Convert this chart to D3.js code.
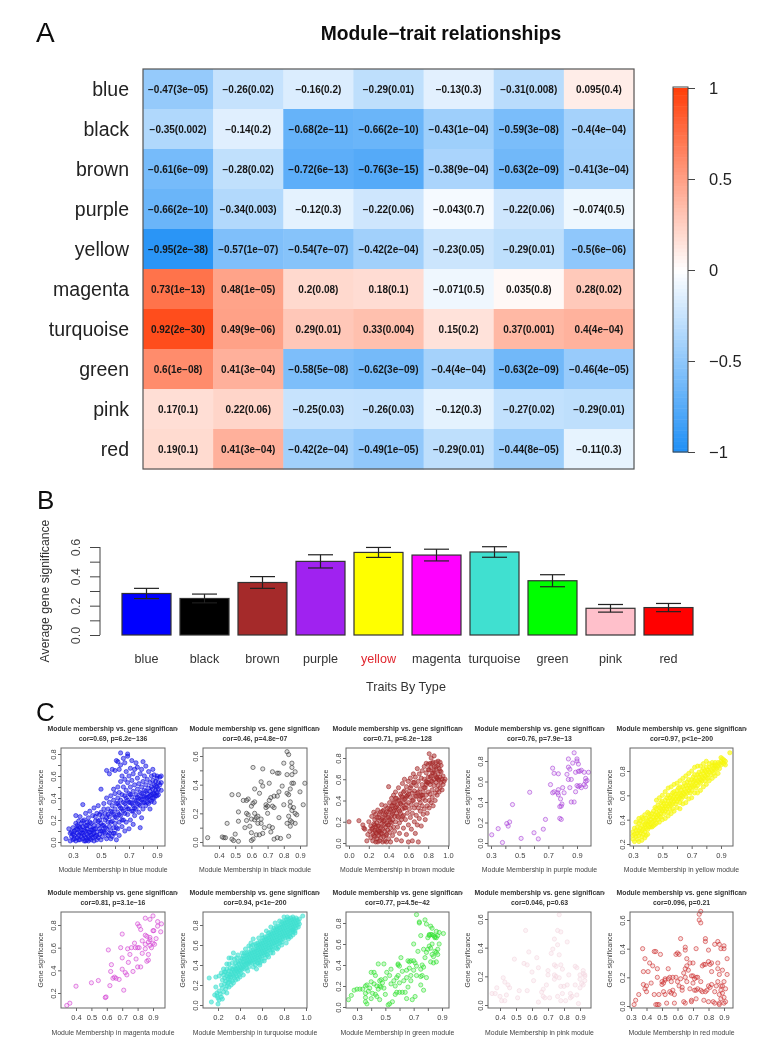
<!DOCTYPE html>
<html><head><meta charset="utf-8">
<script src="https://cdn.jsdelivr.net/npm/d3@7/dist/d3.min.js"></script>
<style>html,body{margin:0;padding:0;background:#fff}svg{display:block}text{font-family:"Liberation Sans",Arial,sans-serif}</style>
</head><body><svg id="c" width="763" height="1056"></svg>
<script>
// ---------- Panel A data ----------
const modules=["blue","black","brown","purple","yellow","magenta","turquoise","green","pink","red"];
const corValues=[
[-0.47,-0.26,-0.16,-0.29,-0.13,-0.31,0.095],
[-0.35,-0.14,-0.68,-0.66,-0.43,-0.59,-0.4],
[-0.61,-0.28,-0.72,-0.76,-0.38,-0.63,-0.41],
[-0.66,-0.34,-0.12,-0.22,-0.043,-0.22,-0.074],
[-0.95,-0.57,-0.54,-0.42,-0.23,-0.29,-0.5],
[0.73,0.48,0.2,0.18,-0.071,0.035,0.28],
[0.92,0.49,0.29,0.33,0.15,0.37,0.4],
[0.6,0.41,-0.58,-0.62,-0.4,-0.63,-0.46],
[0.17,0.22,-0.25,-0.26,-0.12,-0.27,-0.29],
[0.19,0.41,-0.42,-0.49,-0.29,-0.44,-0.11]];
const pValues=[
["3e−05","0.02","0.2","0.01","0.3","0.008","0.4"],
["0.002","0.2","2e−11","2e−10","1e−04","3e−08","4e−04"],
["6e−09","0.02","6e−13","3e−15","9e−04","2e−09","3e−04"],
["2e−10","0.003","0.3","0.06","0.7","0.06","0.5"],
["2e−38","1e−07","7e−07","2e−04","0.05","0.01","6e−06"],
["1e−13","1e−05","0.08","0.1","0.5","0.8","0.02"],
["2e−30","9e−06","0.01","0.004","0.2","0.001","4e−04"],
["1e−08","3e−04","5e−08","3e−09","4e−04","2e−09","4e−05"],
["0.1","0.06","0.03","0.03","0.3","0.02","0.01"],
["0.1","3e−04","2e−04","1e−05","0.01","8e−05","0.3"]];
const legendTicks=[-1,-0.5,0,0.5,1];
// ---------- Panel B data ----------
const traitLabels=modules;
const barFills=["#0000ff","#000000","#a52a2a","#a020f0","#ffff00","#ff00ff","#40e0d0","#00ff00","#ffc0cb","#ff0000"];
const avgGS=[0.283,0.249,0.358,0.502,0.563,0.545,0.566,0.37,0.182,0.187];
const errGS=[0.035,0.03,0.04,0.045,0.034,0.04,0.036,0.041,0.026,0.028];
// ---------- Panel C data (membership, significance in hundredths) ----------
const bluePts=[[25,3],[27,12],[28,8],[29,5],[30,2],[30,13],[31,10],[31,6],[32,24],[32,17],[32,1],[33,8],[33,4],[33,12],[34,19],[34,6],[34,14],[35,2],[35,9],[35,23],[36,5],[36,11],[36,17],[37,3],[37,8],[37,14],[37,34],[38,6],[38,20],[38,1],[39,10],[39,4],[39,15],[39,26],[40,2],[40,7],[40,12],[40,18],[41,5],[41,22],[41,1],[42,9],[42,3],[42,14],[42,28],[43,6],[43,17],[43,2],[44,11],[44,24],[44,4],[45,8],[45,15],[45,1],[45,31],[46,19],[46,5],[46,12],[47,2],[47,26],[47,9],[48,15],[48,4],[48,33],[49,20],[49,7],[49,12],[50,2],[50,27],[50,17],[50,48],[51,10],[51,23],[51,5],[52,15],[52,35],[52,30],[53,20],[53,8],[53,26],[54,3],[54,12],[54,40],[54,65],[55,18],[55,30],[55,6],[56,23],[56,36],[56,14],[56,62],[57,10],[57,28],[57,42],[57,3],[58,19],[58,33],[58,66],[58,5],[59,25],[59,13],[59,38],[59,48],[60,8],[60,30],[60,17],[60,44],[60,65],[61,22],[61,35],[61,2],[61,74],[62,12],[62,40],[62,27],[62,50],[62,73],[63,18],[63,33],[63,6],[63,45],[63,66],[64,24],[64,38],[64,55],[64,81],[64,70],[65,14],[65,30],[65,43],[65,60],[66,20],[66,36],[66,50],[66,76],[67,26],[67,10],[67,42],[67,57],[67,72],[68,32],[68,18],[68,47],[68,64],[69,38],[69,25],[69,54],[69,78],[69,80],[70,12],[70,30],[70,44],[70,60],[71,36],[71,20],[71,50],[71,67],[72,28],[72,41],[72,56],[72,74],[73,33],[73,46],[73,16],[73,62],[74,24],[74,38],[74,52],[74,66],[75,30],[75,43],[75,72],[76,35],[76,48],[76,58],[76,68],[77,27],[77,40],[77,53],[78,33],[78,45],[78,62],[78,13],[79,38],[79,50],[79,66],[79,22],[80,42],[80,30],[80,55],[80,73],[81,36],[81,47],[81,60],[82,40],[82,33],[82,52],[82,69],[83,44],[83,36],[83,57],[84,41],[84,49],[84,64],[85,38],[85,46],[85,54],[85,30],[86,43],[86,60],[86,50],[87,40],[87,48],[87,56],[87,66],[88,44],[88,52],[88,36],[88,61],[89,47],[89,55],[89,42],[90,50],[90,58],[90,45],[90,60],[91,54],[91,48],[92,59],[92,52],[93,54],[93,47],[93,60]];
const blueDense=[[28,1],[29,9],[30,7],[31,3],[32,11],[33,15],[34,2],[35,13],[36,8],[37,19],[38,11],[39,1],[40,15],[41,9],[42,18],[43,11],[44,7],[45,12],[46,23],[47,6],[48,19],[49,25],[50,10],[51,15],[52,9],[53,13],[54,22],[55,25],[56,8],[57,18],[58,27],[59,8],[60,23],[61,13],[62,35],[63,25],[64,31],[65,20],[66,28],[67,35],[68,40],[69,30],[70,36],[71,43],[72,35],[73,28],[74,31],[75,37],[76,41],[77,34],[78,39],[79,44],[80,36],[81,41],[82,46],[83,40],[84,35],[85,42],[86,37],[87,44],[88,40],[89,51],[90,42],[91,43]];
const blackPts=[[33,3],[42,3.5],[43,3],[44,3],[48,2],[49,1],[50,5.5],[52,.5],[48,33],[52,33],[45,13],[52,21],[52,14.5],[55,29],[57,29],[58,30],[61,27],[60,25],[62,28],[57,20],[58,19],[57,15],[56,10],[59,11],[60,1],[61,2],[60,6.5],[63,5],[65,5],[67,6],[68,10],[71,11],[73,10],[72,7],[74,2],[76,3],[78,2.5],[83,4],[62,37],[61,52],[67,51],[66,42],[67,39],[71,41],[73,49],[76,48],[77,48],[80,55],[82,63],[83,61],[85,55],[85,52],[87,49],[85,47],[82,47],[85,41],[86,41],[79,39],[77,35],[76,32],[74,32],[72,31],[71,29],[65,34],[62,20],[63,17],[64,18],[66,16],[69,24],[69,26],[70,20],[70,25],[74,24],[73,25],[77,17],[80,26],[82,34],[83,33],[84,28],[84,25],[86,24],[87,20],[88,19],[85,22],[83,18],[82,13],[84,15],[85,14],[87,13],[84,11],[93,41],[90,35],[92,26],[84,37],[64,13],[62,15.5],[66,13],[60,16]];
const brownPts=[[0,20],[10,21],[14,17],[15,14],[16,13],[18,2],[19,8],[20,20],[21,11],[22,5],[22,16],[23,25],[23,13],[24,2],[24,9],[25,18],[25,29],[26,6],[26,12],[26,22],[27,1],[27,15],[27,27],[28,9],[28,4],[28,19],[29,12],[29,31],[29,1],[30,7],[30,16],[30,24],[31,2],[31,11],[31,21],[32,14],[32,5],[32,29],[33,18],[33,36],[33,9],[34,1],[34,13],[34,24],[35,6],[35,17],[35,31],[36,11],[36,21],[36,2],[37,27],[37,15],[37,35],[38,8],[38,19],[38,1],[39,24],[39,12],[39,33],[40,4],[40,17],[40,53],[40,29],[41,22],[41,38],[41,10],[42,14],[42,31],[42,1],[43,26],[43,19],[43,42],[44,7],[44,35],[44,22],[45,30],[45,15],[45,45],[46,38],[46,25],[46,11],[47,33],[47,20],[47,48],[48,3],[48,28],[48,42],[49,36],[49,15],[50,24],[50,32],[50,52],[51,40],[51,9],[51,19],[52,28],[52,46],[53,36],[53,2],[53,22],[54,32],[54,56],[54,43],[55,14],[55,38],[55,26],[56,49],[56,33],[56,60],[57,22],[57,42],[58,8],[58,36],[58,53],[59,28],[59,45],[60,1],[60,17],[60,58],[60,38],[61,32],[61,49],[62,24],[62,43],[62,61],[63,13],[63,36],[63,54],[64,47],[64,2],[64,28],[65,40],[65,57],[65,65],[66,20],[66,33],[66,49],[67,44],[67,9],[67,62],[68,36],[68,26],[68,54],[69,17],[69,47],[69,70],[70,33],[70,58],[70,1],[71,41],[71,65],[71,23],[72,51],[72,30],[72,38],[73,61],[73,45],[73,16],[74,35],[74,55],[74,68],[75,27],[75,48],[75,42],[76,60],[76,72],[76,32],[77,52],[77,40],[77,22],[78,66],[78,45],[78,75],[79,35],[79,57],[79,28],[80,48],[80,62],[80,74],[81,40],[81,69],[81,84],[81,33],[82,55],[82,75],[82,46],[83,63],[83,38],[83,71],[83,80],[84,50],[84,58],[84,43],[85,66],[85,76],[85,35],[86,54],[86,60],[86,72],[86,82],[87,47],[87,64],[87,40],[88,57],[88,76],[88,69],[89,50],[89,61],[89,45],[90,73],[90,65],[90,54],[90,77],[91,59],[91,48],[91,70],[92,62],[92,76],[92,52],[93,67],[93,57],[93,73],[94,60],[94,50],[95,55],[95,63],[96,58],[97,60]];
const brownDense=[[24,14],[25,7],[26,17],[27,10],[28,24],[29,16],[30,11],[31,27],[32,9],[33,22],[34,30],[35,21],[36,26],[37,7],[38,29],[39,17],[40,24],[41,32],[42,20],[43,35],[44,27],[45,38],[46,31],[47,42],[48,34],[49,25],[50,40],[51,30],[52,37],[53,44],[54,25],[55,48],[56,41],[57,33],[58,44],[60,46],[62,52],[64,40],[66,57],[68,44],[70,48],[72,44],[74,45],[76,52],[78,55],[80,57],[82,62],[84,66],[86,68],[88,62],[90,60],[92,68],[78,58],[84,75],[88,72],[80,69],[83,58]];
const purplePts=[[30.5,8],[35,14],[38,.5],[41,19],[43,20.5],[42,16.5],[45,37.5],[51,4.5],[57,49.5],[60,10],[63,4],[66.5,13.5],[68,23],[71.5,57],[73,73],[74,68],[77,67.5],[73,49],[74,50],[76.5,49],[77,52],[77,47],[78.5,43],[79,36],[79.5,38],[78,35.5],[78,24],[79,23],[80,54],[81,49],[84,74],[85,72],[86,62],[87,78],[88,88],[90,82],[90,80],[91,77],[84,82],[83,67],[84,62],[85,54],[86,40],[88,40],[89,50],[90,56],[91,55],[92,56],[92,70],[91,70],[93,71],[95,69],[96,63],[96,60],[97,61],[95,57],[96,55],[98,69],[89,69],[93,54]];
const yellowPts=[[30,27],[30,30],[30,24],[31,33],[31,28],[31,22],[32,31],[32,26],[32,38],[33,29],[33,34],[33,24],[34,27],[34,37],[34,31],[35,33],[35,29],[35,39],[36,35],[36,26],[36,31],[37,32],[37,38],[37,28],[37,41],[38,34],[38,30],[38,36],[39,33],[39,41],[39,37],[39,27],[40,36],[40,39],[40,32],[41,38],[41,42],[41,34],[41,45],[42,40],[42,36],[42,43],[43,38],[43,45],[43,34],[44,42],[44,39],[44,47],[45,44],[45,40],[45,50],[45,36],[46,46],[46,42],[46,49],[47,44],[47,52],[47,40],[48,47],[48,50],[48,43],[49,49],[49,45],[49,54],[49,42],[50,51],[50,47],[50,55],[51,49],[51,53],[51,45],[52,51],[52,56],[52,47],[53,53],[53,49],[53,58],[54,55],[54,51],[54,60],[54,46],[55,53],[55,58],[55,49],[56,56],[56,60],[56,52],[57,57],[57,53],[57,62],[57,49],[58,59],[58,55],[58,63],[59,57],[59,61],[59,53],[60,59],[60,64],[60,55],[61,61],[61,57],[61,66],[62,62],[62,58],[62,67],[62,54],[63,64],[63,60],[63,57],[64,62],[64,67],[64,59],[65,65],[65,61],[65,70],[66,63],[66,68],[66,59],[67,66],[67,71],[67,62],[68,68],[68,64],[68,73],[69,70],[69,66],[69,62],[70,68],[70,73],[70,64],[71,71],[71,75],[71,67],[72,72],[72,68],[72,77],[73,74],[73,70],[73,66],[74,72],[74,77],[74,68],[75,75],[75,71],[75,79],[76,77],[76,73],[76,70],[77,75],[77,80],[77,72],[78,78],[78,74],[78,82],[79,76],[79,80],[79,72],[80,79],[80,75],[80,83],[81,81],[81,77],[81,74],[82,83],[82,79],[82,86],[83,81],[83,77],[84,84],[84,80],[84,87],[85,82],[85,78],[85,85],[86,84],[86,87],[86,81],[87,85],[87,82],[88,87],[88,84],[89,86],[89,82],[90,88],[90,85],[90,91],[91,87],[91,90],[92,89],[92,86],[93,88],[93,85],[96,95]];
const yellowEdge=[[46,56],[48,58],[50,60],[52,63],[54,66],[56,67],[58,69],[60,70],[62,72],[64,74],[66,76],[68,78],[70,80],[72,83],[74,84],[76,84],[78,86],[80,88],[46,37],[48,38],[50,40],[52,41],[54,43],[56,45],[58,47],[60,50],[62,49],[64,53],[66,54],[68,57],[70,58],[72,62],[74,62],[76,64],[78,67],[80,69],[82,72],[84,74],[86,76],[88,78],[40,46],[38,44],[36,42],[34,41],[42,34],[40,28],[38,25],[36,23],[34,22],[44,35]];
const magentaPts=[[34,9],[36,11],[40,26],[50,29],[54.5,31],[59,16],[59.5,16.5],[61,58],[62,26.5],[62.5,39],[63,45],[64,33],[65,34],[66,33],[68,32],[69,60],[70,51],[70,72],[70,41],[72,38],[71,22.5],[73,36],[73.5,59],[74,47],[75,54],[76,60],[77,39],[78,64],[78.5,60],[79,50],[80,60],[80,43],[80,81],[81,60],[81,79],[82,43],[82,76],[83,55],[83,66],[85,63],[85,59],[85,71],[86,48],[86,70],[87,49],[87,65],[87,54],[88,69],[88,67],[88,62],[88,85],[89,60],[90,88],[90,64],[90,75],[90.5,75],[91,63],[92,68],[93,83],[93,79],[95,74],[95.5,81],[85,86]];
const turquoisePts=[[12,27],[14,3],[17,10],[18,18],[18,28],[19,12],[19,9],[20,1],[20,7],[21,14],[21,29],[21,5],[22,11],[23,20],[23,8],[23,32],[24,17],[24,25],[24,6],[25,13],[25,30],[25,36],[26,21],[26,27],[27,16],[27,33],[27,24],[28,29],[28,19],[28,36],[29,26],[29,31],[29,22],[30,34],[30,28],[30,18],[30,41],[31,30],[31,25],[31,37],[32,33],[32,28],[32,47],[33,31],[33,36],[33,24],[34,35],[34,29],[34,52],[35,33],[35,38],[35,27],[36,36],[36,31],[36,42],[37,34],[37,39],[37,29],[37,47],[38,37],[38,33],[38,43],[39,35],[39,41],[39,30],[40,38],[40,34],[40,44],[41,37],[41,42],[41,32],[42,40],[42,46],[42,36],[43,43],[43,38],[43,49],[44,41],[44,46],[44,36],[45,44],[45,49],[45,40],[46,42],[46,47],[46,52],[47,45],[47,50],[47,41],[48,48],[48,43],[48,53],[48,38],[49,46],[49,51],[49,42],[50,49],[50,54],[50,44],[50,58],[51,47],[51,52],[51,42],[52,50],[52,55],[52,45],[52,60],[53,48],[53,53],[53,43],[54,51],[54,56],[54,46],[54,61],[55,49],[55,54],[55,59],[55,44],[56,52],[56,57],[56,47],[56,62],[57,50],[57,55],[57,60],[57,45],[58,53],[58,58],[58,48],[58,63],[59,51],[59,56],[59,61],[59,46],[60,54],[60,59],[60,64],[60,49],[61,57],[61,52],[61,62],[61,67],[62,55],[62,60],[62,65],[62,50],[63,58],[63,53],[63,63],[63,68],[64,56],[64,61],[64,66],[64,51],[65,59],[65,64],[65,54],[65,69],[66,62],[66,57],[66,67],[66,72],[67,60],[67,65],[67,55],[67,70],[68,63],[68,58],[68,68],[68,73],[69,61],[69,66],[69,71],[69,56],[70,64],[70,59],[70,69],[70,74],[71,62],[71,67],[71,72],[71,77],[72,65],[72,60],[72,70],[72,75],[73,68],[73,63],[73,73],[73,78],[74,66],[74,71],[74,61],[74,76],[75,69],[75,64],[75,74],[75,79],[76,67],[76,72],[76,77],[76,62],[77,70],[77,65],[77,75],[77,80],[78,68],[78,73],[78,78],[78,83],[79,71],[79,66],[79,76],[79,81],[80,74],[80,69],[80,79],[80,84],[81,72],[81,77],[81,67],[81,82],[82,75],[82,70],[82,80],[82,85],[83,73],[83,78],[83,83],[83,88],[84,76],[84,71],[84,81],[84,86],[85,74],[85,79],[85,69],[85,84],[86,77],[86,82],[86,72],[86,87],[87,75],[87,80],[87,85],[88,78],[88,73],[88,83],[88,88],[89,76],[89,81],[89,86],[90,79],[90,84],[90,74],[91,82],[91,77],[91,87],[92,80],[92,85],[93,78],[93,83],[94,81],[94,86],[97,89]];
const turquoiseEdge=[[50,62],[52,66],[55,36],[57,67],[58,40],[60,70],[62,44],[64,74],[66,48],[68,78],[70,52],[72,82],[74,56],[76,84],[78,60],[80,88],[82,62],[84,66],[86,68],[88,70],[90,72],[45,56],[42,52],[47,34],[40,28],[43,30],[38,50],[35,46],[33,42],[30,47],[54,40],[56,42],[60,44],[65,50],[70,55],[75,58],[28,12],[30,23],[32,20],[34,22],[36,25],[38,26],[26,33],[28,41],[41,47],[44,52],[48,59],[46,37],[52,38],[58,42],[63,47],[68,52],[73,57],[78,63],[83,68],[88,75]];
const greenPts=[[24,7],[26,11],[28,16],[30,17],[32,17],[34,17],[36,20],[36,13],[36,9],[36,5],[37,3],[37,21],[38,15],[39,18],[40,24],[40,33],[40,8],[41,13],[42,33],[42,22],[43,30],[43,12],[44,10],[44,20],[45,17],[45,41],[46,25],[46,20],[46,7],[47,19],[47,26],[48,23],[49,41],[49,18],[50,12],[50,27],[51,33],[52,2],[53,3],[53,30],[54,36],[54,22],[55,5],[56,25],[57,20],[57,12],[58,28],[58,14],[59,40],[59,41],[59,30],[60,39],[60,23],[60,14],[61,47],[62,34],[62,14],[63,25],[64,14],[65,35],[65,28],[65,8],[66,44],[66,19],[67,37],[67,43],[68,44],[68,30],[68,25],[69,7],[70,60],[70,35],[70,44],[71,10],[71,42],[72,30],[72,88],[72,39],[73,53],[74,80],[74,81],[75,36],[75,29],[75,68],[75,21],[76,30],[76,40],[77,38],[77,16],[77,55],[78,83],[78,47],[79,28],[79,79],[80,66],[80,55],[81,68],[81,58],[81,69],[82,69],[82,77],[82,43],[82,56],[83,69],[83,75],[83,50],[83,60],[84,68],[84,42],[85,53],[85,67],[85,66],[86,52],[86,72],[86,66],[86,43],[87,55],[87,68],[88,60],[88,71],[91,70],[87,50],[84,48],[79,52]];
const pinkPts=[[35,8],[37,8],[38,12],[40,6],[41,3],[42,19],[43,16],[43,3],[44,7],[45,14],[46,12],[49,32],[51,5],[52,10],[55,29],[56,52],[57,28],[57,10],[58,37],[60,23],[61,17],[63,33],[64,2],[64,26],[66,9],[67,11],[67,6],[68,5],[69,14],[70,24],[70,21],[71,5],[72,36],[73,39],[74,46],[74,28],[74,21],[74,18],[75,27],[75,20],[76,42],[76,52],[76,6],[77,35],[77,63],[77,19],[78,28],[78,3],[78,51],[78,13],[79,25],[79,8],[80,13],[81,3],[82,44],[82,14],[83,21],[84,8],[84,5],[85,6],[87,14],[87,27],[88,7],[88,26],[89,1],[90,18],[90,12],[90,21],[91,15],[92,24],[92,22],[92,14],[93,17],[93,20],[93,21]];
const redPts=[[32,1],[33,4],[35,8],[37.5,40],[38,24],[38,15],[39,33],[39,12],[40,14],[40,10],[41,24],[42,30],[43,16],[44,28],[45,8],[45,38],[46,38],[46,1],[47,1],[47,26],[47,20],[48,1],[48,8],[49,36],[50,15],[50,17],[51,16],[51,10],[52,19],[52,18],[52,8],[53,2],[54,19],[54,26],[55,20],[55,10],[56,9],[56,17],[57,20],[57,11],[58,2],[58,8],[59,20],[59,36],[60,17],[60,37],[61,14],[61,36],[62,47],[62,19],[63,11],[63,13],[64,3],[64,23],[65,20],[65,26],[65,41],[65,39],[65,2],[66,33],[66,17],[66,28],[67,25],[68,12],[68,30],[69,21],[69,4],[69,3],[70,16],[70,30],[70,21],[71,11],[71,19],[72,40],[72,20],[72,5],[72,11],[73,12],[73,20],[74,60],[74,64],[75,66],[75,58],[75,11],[75,17],[76,28],[76,10],[77,29],[77,4],[78,47],[78,45],[78,10],[78,29],[79,11],[80,31],[80,39],[80,14],[80,3],[81,29],[81,13],[82,30],[82,24],[82,15],[83,3],[84,43],[84,2],[84,10],[85,14],[86,17],[86,30],[86,26],[86,45],[87,1],[87,43],[87,22],[87,8],[87,2],[88,11],[88,14],[88,40],[88,5],[89,25],[89,9],[89,14],[90,2],[90,42],[90,40],[90,17],[90,6],[91,3],[92,33],[92,22],[91,12]];
const traitPanels=[
 {mod:"blue",pts:bluePts.concat(blueDense),cor:"cor=0.69, p=6.2e−136",col:"#1414e6",op:.5,xt:[.3,.4,.5,.6,.7,.8,.9],xl:[.3,.5,.7,.9],yt:[0,.1,.2,.3,.4,.5,.6,.7,.8],yl:[0,.2,.4,.6,.8]},
 {mod:"black",pts:blackPts,cor:"cor=0.46, p=4.8e−07",col:"#333333",op:.15,xt:[.4,.5,.6,.7,.8,.9],xl:[.4,.5,.6,.7,.8,.9],yt:[0,.1,.2,.3,.4,.5,.6],yl:[0,.2,.4,.6]},
 {mod:"brown",pts:brownPts.concat(brownDense),cor:"cor=0.71, p=6.2e−128",col:"#a52a2a",op:.5,xt:[0,.2,.4,.6,.8,1],xl:[0,.2,.4,.6,.8,1],yt:[0,.2,.4,.6,.8],yl:[0,.2,.4,.6,.8]},
 {mod:"purple",pts:purplePts,cor:"cor=0.76, p=7.9e−13",col:"#a83fd8",op:.15,xt:[.3,.4,.5,.6,.7,.8,.9],xl:[.3,.5,.7,.9],yt:[0,.2,.4,.6,.8],yl:[0,.2,.4,.6,.8]},
 {mod:"yellow",pts:yellowPts.concat(yellowEdge),cor:"cor=0.97, p<1e−200",col:"#f6f60a",op:.6,xt:[.3,.4,.5,.6,.7,.8,.9],xl:[.3,.5,.7,.9],yt:[.2,.4,.6,.8],yl:[.2,.4,.6,.8]},
 {mod:"magenta",pts:magentaPts,cor:"cor=0.81, p=3.1e−16",col:"#d23cd2",op:.15,xt:[.4,.5,.6,.7,.8,.9],xl:[.4,.5,.6,.7,.8,.9],yt:[.2,.4,.6,.8],yl:[.2,.4,.6,.8]},
 {mod:"turquoise",pts:turquoisePts.concat(turquoiseEdge),cor:"cor=0.94, p<1e−200",col:"#40e0d0",op:.6,xt:[.2,.4,.6,.8,1],xl:[.2,.4,.6,.8,1],yt:[0,.2,.4,.6,.8],yl:[0,.2,.4,.6,.8]},
 {mod:"green",pts:greenPts,cor:"cor=0.77, p=4.5e−42",col:"#2fe02f",op:.25,xt:[.3,.4,.5,.6,.7,.8,.9],xl:[.3,.5,.7,.9],yt:[0,.2,.4,.6,.8],yl:[0,.2,.4,.6,.8]},
 {mod:"pink",pts:pinkPts,cor:"cor=0.046, p=0.63",col:"#f4d8e0",op:.3,xt:[.4,.5,.6,.7,.8,.9],xl:[.4,.5,.6,.7,.8,.9],yt:[0,.2,.4,.6],yl:[0,.2,.4,.6]},
 {mod:"red",pts:redPts,cor:"cor=0.096, p=0.21",col:"#cc2f2f",op:.15,xt:[.3,.4,.5,.6,.7,.8,.9],xl:[.3,.4,.5,.6,.7,.8,.9],yt:[0,.2,.4,.6],yl:[0,.2,.4,.6]}];
// ---------- layout (pixels, kept apart from the data) ----------
const layoutC=[
 {f:[61,165,748,846],xa:[.3,73,.9,157],ya:[0,842,.8,754]},
 {f:[203,307,748,846],xa:[.4,219,.9,300],ya:[0,842,.6,756]},
 {f:[346,449,748,846],xa:[0,349,1,448],ya:[0,843,.8,758]},
 {f:[488,591,748,846],xa:[.3,491,.9,577],ya:[0,843,.8,761]},
 {f:[630,733,748,846],xa:[.3,633,.9,721],ya:[.2,844,.8,771]},
 {f:[61,165,912,1008],xa:[.4,76,.9,153],ya:[.2,993,.8,925]},
 {f:[203,307,912,1008],xa:[.2,218,1,306],ya:[0,1005,.8,925]},
 {f:[346,449,912,1008],xa:[.3,357,.9,442],ya:[0,1007,.8,923]},
 {f:[488,591,912,1008],xa:[.4,500,.9,580],ya:[0,1005,.6,919]},
 {f:[630,733,912,1008],xa:[.3,631,.9,724],ya:[0,1006,.6,920]}];

const svg=d3.select("#c");
const defs=svg.append("defs");
const blur=defs.append("filter").attr("id","soft").attr("filterUnits","userSpaceOnUse").attr("x",0).attr("y",0).attr("width",763).attr("height",1056);
blur.append("feGaussianBlur").attr("stdDeviation",0.45);
const root=svg.append("g").attr("filter","url(#soft)");
const fmt=v=>String(v).replace("-","−");

// letters
[["A",36,42,28],["B",37,509,26],["C",36,721,26]].forEach(([t,x,y,s])=>root.append("text").attr("x",x).attr("y",y).attr("font-size",s).attr("fill","#111").text(t));

// ---- A
const heatColor=d3.scaleLinear().domain([-1,0,1]).range(["#1e8ff6","#ffffff","#ff3f0a"]);
const hx=d3.scaleBand().domain(d3.range(7)).range([143,634]);
const hy=d3.scaleBand().domain(modules).range([69,469]);
root.append("text").attr("x",441).attr("y",40).attr("text-anchor","middle").attr("font-size",19.3).attr("font-weight","bold").attr("fill","#111").text("Module−trait relationships");
const rows=root.selectAll(".r").data(modules).join("g").attr("transform",d=>`translate(0,${hy(d)})`);
rows.append("text").attr("x",129).attr("y",hy.bandwidth()/2+7).attr("text-anchor","end").attr("font-size",19.5).attr("fill","#222").text(d=>d);
rows.each(function(m,i){
 const g=d3.select(this);
 const cells=g.selectAll("g").data(corValues[i].map((v,j)=>({v,j,p:pValues[i][j]}))).join("g").attr("transform",d=>`translate(${hx(d.j)},0)`);
 cells.append("rect").attr("width",hx.bandwidth()+.5).attr("height",hy.bandwidth()+.5).attr("fill",d=>heatColor(d.v));
 cells.append("text").attr("x",hx.bandwidth()/2).attr("y",hy.bandwidth()/2+3.5).attr("text-anchor","middle").attr("font-size",10).attr("font-weight","bold").attr("fill","#161616").text(d=>`${fmt(d.v)}(${d.p})`);
});
root.append("rect").attr("x",143).attr("y",69).attr("width",491).attr("height",400).attr("fill","none").attr("stroke","#555").attr("stroke-width",1.2);
// colour key
const ky=d3.scaleLinear().domain([-1,1]).range([452,88]);
const kSteps=d3.range(-1,1,0.02);
root.selectAll(".k").data(kSteps).join("rect").attr("x",673).attr("width",15).attr("y",d=>ky(d+.02)).attr("height",d=>ky(d)-ky(d+.02)+.5).attr("fill",d=>heatColor(d+.01));
root.append("rect").attr("x",673).attr("y",87).attr("width",15).attr("height",365).attr("fill","none").attr("stroke","#444").attr("stroke-width",1);
const kAxis=root.append("g").attr("transform","translate(688,0)").call(d3.axisRight(ky).tickValues(legendTicks).tickSize(7).tickPadding(14).tickFormat(fmt));
kAxis.select(".domain").remove();
kAxis.selectAll("line").attr("stroke","#444");
kAxis.selectAll("text").attr("font-size",16.5).attr("fill","#222").style("font-family",'"Liberation Sans"');

// ---- B
const bx=d3.scaleBand().domain(traitLabels).range([122,693]).paddingInner(9/58);
const by=d3.scaleLinear().domain([0,.6]).range([635,547]);
const bw=bx.bandwidth();
const bars=root.selectAll(".b").data(traitLabels).join("g").attr("transform",d=>`translate(${bx(d)},0)`);
bars.append("rect").attr("width",bw).attr("y",(d,i)=>by(avgGS[i])).attr("height",(d,i)=>by(0)-by(avgGS[i])).attr("fill",(d,i)=>barFills[i]).attr("stroke","#333").attr("stroke-width",1.2);
bars.each(function(d,i){
 const g=d3.select(this),c=bw/2,hi=by(avgGS[i]+errGS[i]),lo=by(avgGS[i]-errGS[i]);
 g.append("line").attr("x1",c).attr("x2",c).attr("y1",hi).attr("y2",lo);
 g.append("line").attr("x1",c-12.5).attr("x2",c+12.5).attr("y1",hi).attr("y2",hi);
 g.append("line").attr("x1",c-12.5).attr("x2",c+12.5).attr("y1",lo).attr("y2",lo);
 g.selectAll("line").attr("stroke","#222").attr("stroke-width",1.2);
 g.append("text").attr("x",c).attr("y",663).attr("text-anchor","middle").attr("font-size",12.6).attr("fill",d==="yellow"?"#e0262e":"#333").text(d);
});
const bAxis=root.append("g").attr("transform","translate(100,0)").call(d3.axisLeft(by).tickValues(d3.range(0,7).map(d=>d/10)).tickSize(10).tickFormat(d=>(Math.round(d*10)%2===0)?d.toFixed(1):""));
bAxis.select(".domain").attr("stroke","#444").attr("d","M0,547V635");
bAxis.selectAll("line").attr("stroke","#444");
bAxis.selectAll("text").attr("font-size",12.5).attr("fill","#444").attr("text-anchor","middle").attr("x",null).attr("dy",null).attr("y",null).attr("transform","translate(-20,0) rotate(-90)").style("font-family",'"Liberation Sans"');
root.append("text").attr("transform","translate(49,591) rotate(-90)").attr("text-anchor","middle").attr("font-size",12.2).attr("fill","#333").text("Average gene significance");
root.append("text").attr("x",406).attr("y",691).attr("text-anchor","middle").attr("font-size",12.6).attr("fill","#333").text("Traits By Type");

// ---- C
traitPanels.forEach((p,i)=>{
 const L=layoutC[i],[x0,x1,y0,y1]=L.f;
 const xs=d3.scaleLinear().domain([L.xa[0],L.xa[2]]).range([L.xa[1],L.xa[3]]);
 const ys=d3.scaleLinear().domain([L.ya[0],L.ya[2]]).range([L.ya[1],L.ya[3]]);
 const g=root.append("g");
 const clipId="tc"+i;
 defs.append("clipPath").attr("id",clipId).append("rect").attr("x",x0-14).attr("y",y0-30).attr("width",131).attr("height",30);
 const tg=g.append("g").attr("clip-path",`url(#${clipId})`);
 tg.append("text").attr("x",x0-13.5).attr("y",y0-17).attr("font-size",6.85).attr("font-weight","bold").attr("fill","#333").text("Module membership vs. gene significance");
 g.append("text").attr("x",(x0+x1)/2).attr("y",y0-7).attr("text-anchor","middle").attr("font-size",6.85).attr("font-weight","bold").attr("fill","#333").text(p.cor);
 g.selectAll("circle").data(p.pts).join("circle").attr("cx",d=>xs(d[0]/100)).attr("cy",d=>ys(d[1]/100)).attr("r",2.1).attr("fill",p.col).attr("fill-opacity",p.op).attr("stroke",p.col).attr("stroke-opacity",.75).attr("stroke-width",.8);
 g.append("rect").attr("x",x0).attr("y",y0).attr("width",x1-x0).attr("height",y1-y0).attr("fill","none").attr("stroke","#666").attr("stroke-width",1);
 const xa=g.append("g").attr("transform",`translate(0,${y1})`).call(d3.axisBottom(xs).tickValues(p.xt).tickSize(3).tickPadding(4).tickFormat(d=>p.xl.includes(d)?d.toFixed(1):""));
 xa.select(".domain").remove();
 xa.selectAll("line").attr("stroke","#666");
 xa.selectAll("text").attr("font-size",7.5).attr("fill","#444").style("font-family",'"Liberation Sans"');
 const ya=g.append("g").attr("transform",`translate(${x0},0)`).call(d3.axisLeft(ys).tickValues(p.yt).tickSize(3).tickFormat(d=>p.yl.includes(d)?d.toFixed(1):""));
 ya.select(".domain").remove();
 ya.selectAll("line").attr("stroke","#666");
 ya.selectAll("text").attr("font-size",7.5).attr("fill","#444").attr("text-anchor","middle").attr("x",null).attr("dy",null).attr("y",null).attr("transform","translate(-5,0) rotate(-90)").style("font-family",'"Liberation Sans"');
 g.append("text").attr("transform",`translate(${x0-18.5},${(y0+y1)/2}) rotate(-90)`).attr("text-anchor","middle").attr("font-size",6.9).attr("fill","#444").text("Gene significance");
 g.append("text").attr("x",(x0+x1)/2).attr("y",y1+(i<5?26:27)).attr("text-anchor","middle").attr("font-size",6.9).attr("fill","#444").text(`Module Membership in ${p.mod} module`);
});
</script></body></html>
